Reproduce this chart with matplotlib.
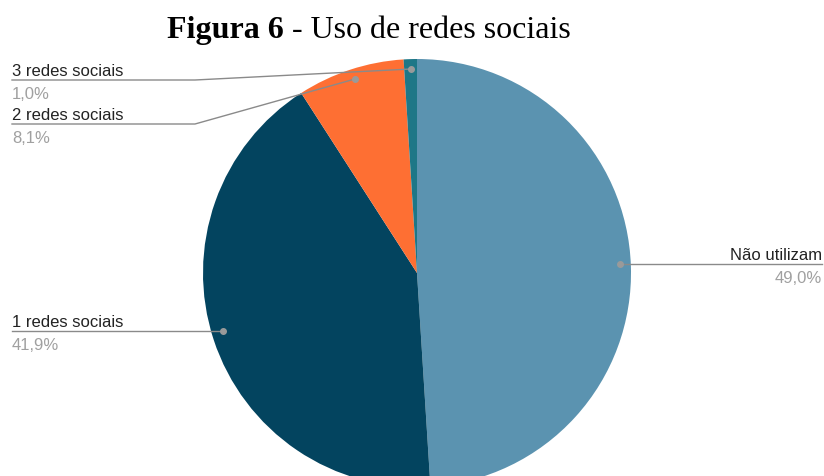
import matplotlib
matplotlib.use("Agg")
import matplotlib.pyplot as plt

labels = ["Não utilizam", "1 redes sociais", "2 redes sociais", "3 redes sociais"]
values = [49.0, 41.9, 8.1, 1.0]
pct_labels = ["49,0%", "41,9%", "8,1%", "1,0%"]
colors = ["#5b93b0", "#03445f", "#fe6f33", "#1e7787"]

W, H = 824, 477
fig = plt.figure(figsize=(W / 100, H / 100), dpi=100)
ax = fig.add_axes([0, 0, 1, 1])

cx, cy, r = 417, H - 274, 214
ax.pie(values, colors=colors, startangle=90, counterclock=False,
       center=(cx, cy), radius=r, frame=True,
       wedgeprops=dict(linewidth=0))
ax.set_xlim(0, W)
ax.set_ylim(0, H)
ax.set_aspect('auto')
ax.axis('off')

# leader lines (image coords: dot, elbow, end)
leaders = [
    [(620, 265), (822, 265)],
    [(223, 332), (12, 332)],
    [(355, 80), (195, 125), (12, 125)],
    [(411, 70), (195, 81), (12, 81)],
]
font = "Liberation Sans"
for lab, pct, pts in zip(labels, pct_labels, leaders):
    xs = [p[0] for p in pts]
    ys = [H - p[1] for p in pts]
    ax.plot(xs, ys, color="#8a8a8a", lw=1.0, zorder=5)
    ax.plot(xs[0], ys[0], 'o', color="#9a9a9a", ms=4, zorder=6)
    xe, ye = xs[-1], ys[-1]
    ha = 'right' if xe > cx else 'left'
    ax.text(xe, ye + 2, lab, ha=ha, va='bottom', fontsize=12,
            family=font, color="#222222")
    ax.text(xe, ye - 6, pct, ha=ha, va='top', fontsize=12,
            family=font, color="#a0a0a0")

# title in two parts
t1 = fig.text(0, 0, "Figura 6", fontsize=23, family="Liberation Serif",
              weight="bold", color="black")
t2 = fig.text(0, 0, " - Uso de redes sociais", fontsize=23,
              family="Liberation Serif", color="black")
fig.canvas.draw()
rend = fig.canvas.get_renderer()
w1 = t1.get_window_extent(rend).width
w2 = t2.get_window_extent(rend).width
x0 = 369 - (w1 + w2) / 2
yb = (H - 38) / H
t1.set_position((x0 / W, yb))
t2.set_position(((x0 + w1) / W, yb))
t1.set_va('baseline')
t2.set_va('baseline')

fig.savefig("out.png", dpi=100)
